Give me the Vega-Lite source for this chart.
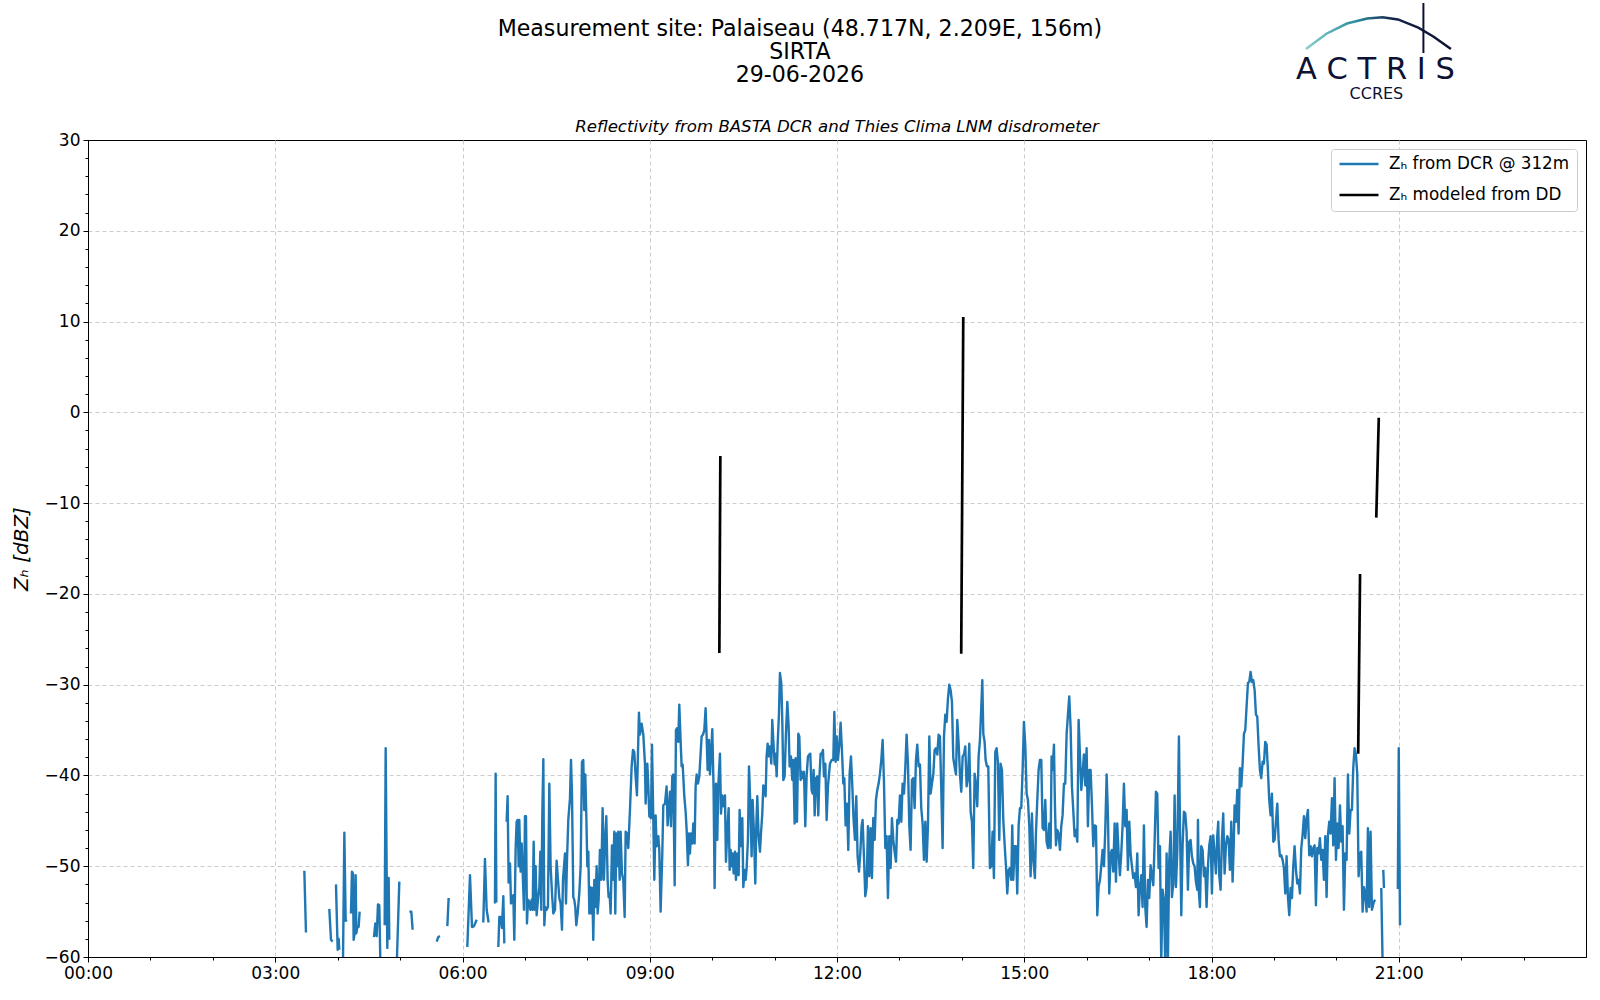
{
"$schema":"https://vega.github.io/schema/vega-lite/v6.json",
"width":1498,"height":817,
"autosize":{"type":"none"},
"padding":{"left":88,"top":140,"right":14,"bottom":43},
"background":"white",
"config":{
 "font":"DejaVu Sans",
 "view":{"stroke":"black","strokeWidth":1},
 "axis":{"domainColor":"black","tickColor":"black","labelColor":"black","labelFont":"DejaVu Sans","labelFontSize":17,"gridColor":"#cccccc","gridDash":[4,3],"gridWidth":1,"titleColor":"black","titleFont":"DejaVu Sans","titleFontWeight":"normal","labelOverlap":false}
},
"datasets":{
"dcr":[
{"t":3.466,"z":-50.5,"g":1},{"t":3.492,"z":-57.3,"g":1},
{"t":3.866,"z":-54.7,"g":2},{"t":3.893,"z":-58.1,"g":2},{"t":3.920,"z":-58.3,"g":2},
{"t":3.973,"z":-52.0,"g":3},{"t":4.000,"z":-59.2,"g":3},{"t":4.016,"z":-58.0,"g":3},{"t":4.026,"z":-59.2,"g":3},
{"t":4.085,"z":-60.7,"g":4},{"t":4.107,"z":-46.3,"g":4},{"t":4.128,"z":-56.0,"g":4},{"t":4.149,"z":-55.9,"g":4},
{"t":4.213,"z":-55.2,"g":5},{"t":4.229,"z":-50.6,"g":5},{"t":4.245,"z":-50.8,"g":5},{"t":4.256,"z":-58.1,"g":5},{"t":4.272,"z":-57.4,"g":5},{"t":4.288,"z":-51.0,"g":5},{"t":4.299,"z":-57.4,"g":5},{"t":4.315,"z":-56.7,"g":5},{"t":4.336,"z":-56.7,"g":5},{"t":4.352,"z":-55.0,"g":5},
{"t":4.582,"z":-57.8,"g":6},{"t":4.603,"z":-56.3,"g":6},{"t":4.625,"z":-57.7,"g":6},{"t":4.646,"z":-54.2,"g":6},{"t":4.667,"z":-54.3,"g":6},{"t":4.683,"z":-60.1,"g":6},
{"t":4.753,"z":-56.5,"g":7},{"t":4.769,"z":-37.0,"g":7},{"t":4.795,"z":-59.0,"g":7},{"t":4.817,"z":-51.3,"g":7},{"t":4.827,"z":-58.1,"g":7},
{"t":4.950,"z":-60.1,"g":8},{"t":4.988,"z":-51.7,"g":8},
{"t":5.148,"z":-55.0,"g":9},{"t":5.180,"z":-55.0,"g":9},{"t":5.201,"z":-57.0,"g":9},
{"t":5.586,"z":-58.3,"g":10},{"t":5.612,"z":-57.8,"g":10},{"t":5.639,"z":-57.7,"g":10},
{"t":5.757,"z":-56.6,"g":11},{"t":5.778,"z":-53.5,"g":11},
{"t":6.077,"z":-58.9,"g":12},{"t":6.120,"z":-51.0,"g":12},{"t":6.152,"z":-56.7,"g":12},{"t":6.184,"z":-56.6,"g":12},{"t":6.227,"z":-55.9,"g":12},
{"t":6.333,"z":-56.2,"g":13},{"t":6.360,"z":-49.2,"g":13},{"t":6.387,"z":-54.8,"g":13},{"t":6.419,"z":-56.2,"g":13},
{"t":6.520,"z":-54.1,"g":14},{"t":6.531,"z":-39.8,"g":14},{"t":6.542,"z":-54.0,"g":14},
{"t":6.574,"z":-58.9,"g":15},{"t":6.590,"z":-55.6,"g":15},{"t":6.611,"z":-55.6,"g":15},{"t":6.632,"z":-56.8,"g":15},{"t":6.654,"z":-53.3,"g":15},{"t":6.670,"z":-58.5,"g":15},
{"t":6.707,"z":-45.1,"g":16},{"t":6.723,"z":-42.3,"g":16},{"t":6.739,"z":-51.8,"g":16},{"t":6.761,"z":-49.7,"g":16},{"t":6.777,"z":-54.1,"g":16},{"t":6.798,"z":-53.7,"g":16},{"t":6.814,"z":-53.2,"g":16},{"t":6.830,"z":-58.1,"g":16},{"t":6.851,"z":-48.2,"g":16},{"t":6.867,"z":-45.1,"g":16},{"t":6.883,"z":-44.9,"g":16},{"t":6.900,"z":-50.0,"g":16},{"t":6.910,"z":-44.9,"g":16},{"t":6.931,"z":-50.6,"g":16},{"t":6.948,"z":-47.5,"g":16},{"t":6.964,"z":-50.6,"g":16},{"t":6.985,"z":-54.8,"g":16},{"t":7.001,"z":-44.5,"g":16},{"t":7.017,"z":-44.5,"g":16},{"t":7.033,"z":-56.3,"g":16},{"t":7.049,"z":-53.7,"g":16},{"t":7.070,"z":-53.9,"g":16},{"t":7.086,"z":-54.8,"g":16},{"t":7.108,"z":-53.7,"g":16},{"t":7.124,"z":-54.8,"g":16},{"t":7.140,"z":-47.3,"g":16},{"t":7.156,"z":-54.8,"g":16},{"t":7.172,"z":-50.0,"g":16},{"t":7.188,"z":-55.4,"g":16},{"t":7.209,"z":-53.7,"g":16},{"t":7.231,"z":-52.3,"g":16},{"t":7.247,"z":-48.4,"g":16},{"t":7.263,"z":-54.8,"g":16},{"t":7.279,"z":-44.2,"g":16},{"t":7.295,"z":-38.2,"g":16},{"t":7.311,"z":-56.5,"g":16},{"t":7.327,"z":-54.5,"g":16},{"t":7.348,"z":-54.8,"g":16},{"t":7.369,"z":-54.5,"g":16},{"t":7.391,"z":-40.9,"g":16},{"t":7.412,"z":-50.0,"g":16},{"t":7.434,"z":-53.0,"g":16},{"t":7.455,"z":-55.2,"g":16},{"t":7.482,"z":-54.8,"g":16},{"t":7.508,"z":-49.4,"g":16},{"t":7.530,"z":-51.5,"g":16},{"t":7.551,"z":-53.5,"g":16},{"t":7.572,"z":-54.1,"g":16},{"t":7.594,"z":-57.0,"g":16},{"t":7.610,"z":-51.5,"g":16},{"t":7.626,"z":-50.0,"g":16},{"t":7.642,"z":-48.6,"g":16},{"t":7.658,"z":-54.1,"g":16},{"t":7.674,"z":-49.3,"g":16},{"t":7.695,"z":-44.9,"g":16},{"t":7.722,"z":-42.5,"g":16},{"t":7.738,"z":-38.3,"g":16},{"t":7.754,"z":-42.0,"g":16},{"t":7.775,"z":-53.4,"g":16},{"t":7.791,"z":-53.7,"g":16},{"t":7.807,"z":-54.5,"g":16},{"t":7.823,"z":-56.5,"g":16},{"t":7.845,"z":-55.2,"g":16},{"t":7.871,"z":-53.0,"g":16},{"t":7.893,"z":-50.0,"g":16},{"t":7.914,"z":-38.5,"g":16},{"t":7.935,"z":-38.3,"g":16},{"t":7.951,"z":-43.8,"g":16},{"t":7.967,"z":-39.9,"g":16},{"t":7.983,"z":-44.2,"g":16},{"t":8.000,"z":-50.0,"g":16},{"t":8.016,"z":-48.4,"g":16},{"t":8.032,"z":-55.2,"g":16},{"t":8.048,"z":-52.3,"g":16},{"t":8.064,"z":-55.2,"g":16},{"t":8.080,"z":-52.4,"g":16},{"t":8.095,"z":-58.1,"g":16},{"t":8.112,"z":-51.5,"g":16},{"t":8.128,"z":-54.5,"g":16},{"t":8.149,"z":-50.0,"g":16},{"t":8.165,"z":-55.2,"g":16},{"t":8.181,"z":-53.7,"g":16},{"t":8.202,"z":-48.2,"g":16},{"t":8.224,"z":-51.5,"g":16},{"t":8.245,"z":-43.6,"g":16},{"t":8.266,"z":-51.5,"g":16},{"t":8.283,"z":-47.5,"g":16},{"t":8.304,"z":-44.5,"g":16},{"t":8.325,"z":-51.5,"g":16},{"t":8.341,"z":-53.4,"g":16},{"t":8.357,"z":-53.0,"g":16},{"t":8.373,"z":-55.2,"g":16},{"t":8.395,"z":-47.7,"g":16},{"t":8.411,"z":-51.5,"g":16},{"t":8.432,"z":-46.2,"g":16},{"t":8.448,"z":-55.2,"g":16},{"t":8.464,"z":-46.4,"g":16},{"t":8.480,"z":-50.0,"g":16},{"t":8.496,"z":-46.2,"g":16},{"t":8.518,"z":-51.5,"g":16},{"t":8.533,"z":-46.2,"g":16},{"t":8.555,"z":-50.8,"g":16},{"t":8.576,"z":-51.5,"g":16},{"t":8.598,"z":-55.6,"g":16},{"t":8.614,"z":-46.2,"g":16},{"t":8.635,"z":-46.4,"g":16},{"t":8.656,"z":-48.0,"g":16},{"t":8.683,"z":-43.8,"g":16},{"t":8.710,"z":-39.0,"g":16},{"t":8.731,"z":-37.2,"g":16},{"t":8.752,"z":-37.4,"g":16},{"t":8.774,"z":-40.1,"g":16},{"t":8.795,"z":-42.2,"g":16},
{"t":8.827,"z":-33.1,"g":16},{"t":8.843,"z":-35.5,"g":16},{"t":8.870,"z":-34.3,"g":16},{"t":8.897,"z":-35.5,"g":16},{"t":8.923,"z":-38.7,"g":16},{"t":8.934,"z":-43.1,"g":16},{"t":8.961,"z":-38.7,"g":16},{"t":8.977,"z":-41.2,"g":16},{"t":8.993,"z":-44.5,"g":16},{"t":9.020,"z":-44.7,"g":16},{"t":9.036,"z":-36.6,"g":16},{"t":9.057,"z":-44.9,"g":16},{"t":9.073,"z":-51.5,"g":16},{"t":9.094,"z":-44.4,"g":16},{"t":9.110,"z":-47.8,"g":16},{"t":9.137,"z":-46.7,"g":16},{"t":9.153,"z":-48.2,"g":16},{"t":9.174,"z":-55.0,"g":16},{"t":9.201,"z":-48.6,"g":16},{"t":9.217,"z":-43.3,"g":16},{"t":9.244,"z":-43.1,"g":16},{"t":9.270,"z":-41.2,"g":16},{"t":9.286,"z":-45.5,"g":16},{"t":9.303,"z":-43.8,"g":16},{"t":9.324,"z":-41.8,"g":16},{"t":9.340,"z":-45.6,"g":16},{"t":9.361,"z":-40.1,"g":16},{"t":9.377,"z":-39.9,"g":16},{"t":9.399,"z":-52.1,"g":16},{"t":9.420,"z":-35.0,"g":16},{"t":9.436,"z":-34.8,"g":16},{"t":9.457,"z":-36.3,"g":16},{"t":9.473,"z":-32.2,"g":16},{"t":9.495,"z":-36.3,"g":16},{"t":9.511,"z":-39.0,"g":16},{"t":9.527,"z":-38.8,"g":16},{"t":9.554,"z":-42.3,"g":16},{"t":9.575,"z":-44.0,"g":16},{"t":9.591,"z":-46.0,"g":16},{"t":9.612,"z":-49.9,"g":16},{"t":9.628,"z":-46.4,"g":16},{"t":9.644,"z":-48.6,"g":16},{"t":9.660,"z":-46.4,"g":16},{"t":9.682,"z":-47.5,"g":16},{"t":9.698,"z":-45.3,"g":16},{"t":9.719,"z":-47.5,"g":16},{"t":9.735,"z":-41.2,"g":16},{"t":9.751,"z":-39.9,"g":16},{"t":9.772,"z":-40.9,"g":16},{"t":9.794,"z":-40.1,"g":16},{"t":9.815,"z":-37.6,"g":16},{"t":9.831,"z":-35.7,"g":16},{"t":9.853,"z":-35.5,"g":16},{"t":9.874,"z":-35.0,"g":16},{"t":9.895,"z":-32.6,"g":16},{"t":9.911,"z":-35.7,"g":16},{"t":9.927,"z":-39.4,"g":16},{"t":9.949,"z":-36.1,"g":16},{"t":9.965,"z":-39.9,"g":16},{"t":9.986,"z":-37.2,"g":16},{"t":10.002,"z":-34.9,"g":16},{"t":10.023,"z":-41.6,"g":16},{"t":10.039,"z":-52.4,"g":16},{"t":10.061,"z":-40.9,"g":16},{"t":10.082,"z":-47.1,"g":16},{"t":10.098,"z":-41.2,"g":16},{"t":10.125,"z":-37.6,"g":16},{"t":10.141,"z":-44.2,"g":16},{"t":10.162,"z":-42.2,"g":16},{"t":10.184,"z":-43.4,"g":16},{"t":10.205,"z":-42.2,"g":16},{"t":10.221,"z":-49.5,"g":16},{"t":10.243,"z":-46.0,"g":16},{"t":10.264,"z":-43.6,"g":16},{"t":10.280,"z":-50.4,"g":16},{"t":10.296,"z":-48.2,"g":16},{"t":10.312,"z":-50.0,"g":16},{"t":10.328,"z":-48.6,"g":16},{"t":10.344,"z":-50.8,"g":16},{"t":10.365,"z":-48.4,"g":16},{"t":10.381,"z":-51.5,"g":16},{"t":10.403,"z":-48.6,"g":16},{"t":10.424,"z":-51.0,"g":16},{"t":10.440,"z":-43.8,"g":16},{"t":10.461,"z":-47.8,"g":16},{"t":10.483,"z":-44.7,"g":16},{"t":10.499,"z":-52.3,"g":16},{"t":10.520,"z":-50.4,"g":16},{"t":10.536,"z":-51.5,"g":16},{"t":10.552,"z":-50.2,"g":16},{"t":10.573,"z":-47.1,"g":16},{"t":10.590,"z":-39.0,"g":16},{"t":10.611,"z":-43.1,"g":16},{"t":10.632,"z":-48.9,"g":16},{"t":10.648,"z":-42.7,"g":16},{"t":10.670,"z":-46.4,"g":16},{"t":10.691,"z":-51.9,"g":16},{"t":10.707,"z":-45.6,"g":16},{"t":10.723,"z":-42.3,"g":16},{"t":10.744,"z":-46.7,"g":16},{"t":10.766,"z":-48.4,"g":16},{"t":10.782,"z":-46.4,"g":16},{"t":10.803,"z":-44.2,"g":16},{"t":10.819,"z":-41.1,"g":16},{"t":10.840,"z":-41.2,"g":16},{"t":10.856,"z":-42.3,"g":16},{"t":10.872,"z":-37.9,"g":16},{"t":10.889,"z":-36.5,"g":16},{"t":10.905,"z":-37.9,"g":16},{"t":10.926,"z":-36.8,"g":16},{"t":10.947,"z":-38.7,"g":16},{"t":10.963,"z":-33.9,"g":16},{"t":10.979,"z":-36.1,"g":16},{"t":11.001,"z":-38.8,"g":16},{"t":11.017,"z":-37.6,"g":16},{"t":11.033,"z":-40.1,"g":16},{"t":11.049,"z":-36.6,"g":16},{"t":11.070,"z":-33.2,"g":16},{"t":11.086,"z":-28.7,"g":16},{"t":11.108,"z":-29.9,"g":16},{"t":11.124,"z":-34.1,"g":16},{"t":11.140,"z":-40.5,"g":16},{"t":11.161,"z":-40.1,"g":16},{"t":11.182,"z":-35.4,"g":16},{"t":11.204,"z":-31.9,"g":16},{"t":11.225,"z":-34.6,"g":16},{"t":11.241,"z":-39.0,"g":16},{"t":11.262,"z":-37.9,"g":16},{"t":11.284,"z":-40.5,"g":16},{"t":11.300,"z":-38.3,"g":16},{"t":11.321,"z":-45.3,"g":16},{"t":11.337,"z":-38.1,"g":16},{"t":11.359,"z":-45.1,"g":16},{"t":11.380,"z":-35.4,"g":16},{"t":11.396,"z":-35.7,"g":16},{"t":11.417,"z":-40.5,"g":16},{"t":11.433,"z":-39.6,"g":16},{"t":11.449,"z":-40.3,"g":16},{"t":11.471,"z":-39.6,"g":16},{"t":11.492,"z":-45.6,"g":16},{"t":11.513,"z":-40.1,"g":16},{"t":11.535,"z":-37.9,"g":16},{"t":11.556,"z":-37.7,"g":16},{"t":11.572,"z":-37.6,"g":16},{"t":11.593,"z":-41.6,"g":16},{"t":11.610,"z":-42.0,"g":16},{"t":11.626,"z":-39.4,"g":16},{"t":11.642,"z":-44.4,"g":16},{"t":11.663,"z":-40.3,"g":16},{"t":11.684,"z":-40.1,"g":16},{"t":11.700,"z":-44.4,"g":16},{"t":11.716,"z":-40.5,"g":16},{"t":11.738,"z":-37.6,"g":16},{"t":11.754,"z":-37.7,"g":16},{"t":11.775,"z":-37.2,"g":16},{"t":11.791,"z":-40.1,"g":16},{"t":11.813,"z":-38.7,"g":16},{"t":11.834,"z":-44.9,"g":16},{"t":11.855,"z":-41.2,"g":16},
{"t":11.887,"z":-38.7,"g":16},{"t":11.914,"z":-38.3,"g":16},{"t":11.941,"z":-38.3,"g":16},{"t":11.957,"z":-33.0,"g":16},{"t":11.978,"z":-38.5,"g":16},{"t":11.994,"z":-35.7,"g":16},{"t":12.015,"z":-38.3,"g":16},{"t":12.037,"z":-36.6,"g":16},{"t":12.058,"z":-34.2,"g":16},{"t":12.079,"z":-37.2,"g":16},{"t":12.101,"z":-40.9,"g":16},{"t":12.117,"z":-40.3,"g":16},{"t":12.138,"z":-45.5,"g":16},{"t":12.160,"z":-43.1,"g":16},{"t":12.181,"z":-48.2,"g":16},{"t":12.202,"z":-39.8,"g":16},{"t":12.224,"z":-37.9,"g":16},{"t":12.245,"z":-41.1,"g":16},{"t":12.266,"z":-44.9,"g":16},{"t":12.288,"z":-47.1,"g":16},{"t":12.309,"z":-42.3,"g":16},{"t":12.330,"z":-48.9,"g":16},{"t":12.352,"z":-50.6,"g":16},{"t":12.373,"z":-48.6,"g":16},{"t":12.394,"z":-45.6,"g":16},{"t":12.410,"z":-44.9,"g":16},{"t":12.432,"z":-48.9,"g":16},{"t":12.453,"z":-53.3,"g":16},{"t":12.474,"z":-52.3,"g":16},{"t":12.496,"z":-45.6,"g":16},{"t":12.517,"z":-51.1,"g":16},{"t":12.539,"z":-45.8,"g":16},{"t":12.560,"z":-51.3,"g":16},{"t":12.581,"z":-44.7,"g":16},{"t":12.603,"z":-47.1,"g":16},{"t":12.624,"z":-42.7,"g":16},{"t":12.645,"z":-41.6,"g":16},{"t":12.667,"z":-40.9,"g":16},{"t":12.688,"z":-39.8,"g":16},{"t":12.710,"z":-38.3,"g":16},{"t":12.731,"z":-36.1,"g":16},{"t":12.752,"z":-40.5,"g":16},{"t":12.774,"z":-48.0,"g":16},{"t":12.795,"z":-46.7,"g":16},{"t":12.816,"z":-53.5,"g":16},{"t":12.838,"z":-46.7,"g":16},{"t":12.859,"z":-50.2,"g":16},{"t":12.880,"z":-44.7,"g":16},{"t":12.902,"z":-47.1,"g":16},{"t":12.923,"z":-48.4,"g":16},{"t":12.945,"z":-49.5,"g":16},{"t":12.966,"z":-44.9,"g":16},{"t":12.987,"z":-45.3,"g":16},{"t":13.009,"z":-42.2,"g":16},{"t":13.030,"z":-45.1,"g":16},{"t":13.051,"z":-40.9,"g":16},{"t":13.073,"z":-42.0,"g":16},{"t":13.094,"z":-39.2,"g":16},{"t":13.115,"z":-35.5,"g":16},{"t":13.137,"z":-38.7,"g":16},{"t":13.158,"z":-45.5,"g":16},{"t":13.179,"z":-48.2,"g":16},{"t":13.201,"z":-40.5,"g":16},{"t":13.222,"z":-40.3,"g":16},{"t":13.244,"z":-43.6,"g":16},{"t":13.265,"z":-38.3,"g":16},{"t":13.286,"z":-36.6,"g":16},{"t":13.308,"z":-39.0,"g":16},{"t":13.329,"z":-38.8,"g":16},{"t":13.350,"z":-43.6,"g":16},{"t":13.372,"z":-45.3,"g":16},{"t":13.393,"z":-49.3,"g":16},{"t":13.415,"z":-45.1,"g":16},{"t":13.436,"z":-49.5,"g":16},{"t":13.457,"z":-45.6,"g":16},{"t":13.479,"z":-35.7,"g":16},{"t":13.500,"z":-42.0,"g":16},{"t":13.521,"z":-40.9,"g":16},{"t":13.543,"z":-39.9,"g":16},{"t":13.564,"z":-37.2,"g":16},{"t":13.585,"z":-37.0,"g":16},{"t":13.607,"z":-37.7,"g":16},{"t":13.628,"z":-35.5,"g":16},{"t":13.649,"z":-35.7,"g":16},{"t":13.671,"z":-41.6,"g":16},{"t":13.692,"z":-48.0,"g":16},{"t":13.714,"z":-35.7,"g":16},{"t":13.735,"z":-33.3,"g":16},{"t":13.756,"z":-34.1,"g":16},{"t":13.778,"z":-31.5,"g":16},{"t":13.799,"z":-30.0,"g":16},{"t":13.820,"z":-30.6,"g":16},{"t":13.842,"z":-31.9,"g":16},{"t":13.863,"z":-38.1,"g":16},{"t":13.884,"z":-39.0,"g":16},{"t":13.906,"z":-39.9,"g":16},{"t":13.927,"z":-33.9,"g":16},{"t":13.949,"z":-36.5,"g":16},{"t":13.970,"z":-39.9,"g":16},{"t":13.991,"z":-41.8,"g":16},{"t":14.013,"z":-37.9,"g":16},{"t":14.034,"z":-37.7,"g":16},{"t":14.055,"z":-36.8,"g":16},{"t":14.077,"z":-41.2,"g":16},{"t":14.098,"z":-40.3,"g":16},{"t":14.119,"z":-36.5,"g":16},{"t":14.141,"z":-44.0,"g":16},{"t":14.162,"z":-45.1,"g":16},{"t":14.183,"z":-50.2,"g":16},{"t":14.205,"z":-39.8,"g":16},{"t":14.226,"z":-41.1,"g":16},{"t":14.247,"z":-43.4,"g":16},{"t":14.269,"z":-37.9,"g":16},{"t":14.290,"z":-36.1,"g":16},{"t":14.312,"z":-32.4,"g":16},{"t":14.328,"z":-29.5,"g":16},{"t":14.344,"z":-35.4,"g":16},{"t":14.365,"z":-36.3,"g":16},{"t":14.381,"z":-38.3,"g":16},{"t":14.402,"z":-39.0,"g":16},{"t":14.424,"z":-39.0,"g":16},{"t":14.450,"z":-50.2,"g":16},{"t":14.472,"z":-50.0,"g":16},{"t":14.493,"z":-46.2,"g":16},{"t":14.514,"z":-51.3,"g":16},{"t":14.536,"z":-37.4,"g":16},{"t":14.557,"z":-37.0,"g":16},{"t":14.578,"z":-38.5,"g":16},{"t":14.600,"z":-47.1,"g":16},{"t":14.621,"z":-38.7,"g":16},{"t":14.643,"z":-39.4,"g":16},{"t":14.664,"z":-44.9,"g":16},{"t":14.685,"z":-47.5,"g":16},{"t":14.707,"z":-50.0,"g":16},{"t":14.728,"z":-53.0,"g":16},
{"t":14.750,"z":-50.4,"g":16},{"t":14.771,"z":-50.2,"g":16},{"t":14.792,"z":-51.5,"g":16},{"t":14.808,"z":-45.5,"g":16},{"t":14.824,"z":-51.5,"g":16},{"t":14.846,"z":-47.8,"g":16},{"t":14.867,"z":-47.8,"g":16},{"t":14.888,"z":-53.0,"g":16},{"t":14.910,"z":-45.5,"g":16},{"t":14.931,"z":-43.6,"g":16},{"t":14.952,"z":-43.6,"g":16},{"t":14.974,"z":-39.4,"g":16},{"t":14.995,"z":-34.1,"g":16},{"t":15.017,"z":-36.8,"g":16},{"t":15.038,"z":-42.0,"g":16},{"t":15.059,"z":-42.7,"g":16},{"t":15.081,"z":-45.6,"g":16},{"t":15.102,"z":-51.1,"g":16},{"t":15.123,"z":-44.2,"g":16},{"t":15.145,"z":-49.3,"g":16},{"t":15.171,"z":-51.3,"g":16},{"t":15.187,"z":-46.4,"g":16},{"t":15.209,"z":-42.7,"g":16},{"t":15.230,"z":-39.4,"g":16},{"t":15.251,"z":-38.3,"g":16},{"t":15.273,"z":-38.3,"g":16},{"t":15.294,"z":-45.8,"g":16},{"t":15.315,"z":-46.0,"g":16},{"t":15.337,"z":-42.7,"g":16},{"t":15.358,"z":-47.3,"g":16},{"t":15.380,"z":-48.0,"g":16},{"t":15.401,"z":-45.3,"g":16},{"t":15.422,"z":-48.0,"g":16},{"t":15.438,"z":-37.9,"g":16},{"t":15.454,"z":-39.4,"g":16},{"t":15.476,"z":-36.6,"g":16},{"t":15.492,"z":-43.4,"g":16},{"t":15.508,"z":-47.7,"g":16},{"t":15.529,"z":-46.0,"g":16},{"t":15.550,"z":-46.4,"g":16},{"t":15.572,"z":-48.2,"g":16},{"t":15.593,"z":-45.6,"g":16},{"t":15.614,"z":-44.4,"g":16},{"t":15.636,"z":-40.9,"g":16},{"t":15.657,"z":-40.9,"g":16},{"t":15.679,"z":-35.4,"g":16},{"t":15.700,"z":-33.3,"g":16},{"t":15.721,"z":-31.3,"g":16},{"t":15.743,"z":-34.8,"g":16},{"t":15.764,"z":-41.2,"g":16},{"t":15.785,"z":-43.8,"g":16},{"t":15.807,"z":-46.7,"g":16},{"t":15.828,"z":-46.0,"g":16},{"t":15.850,"z":-47.3,"g":16},{"t":15.871,"z":-33.9,"g":16},{"t":15.892,"z":-37.7,"g":16},{"t":15.914,"z":-41.6,"g":16},{"t":15.935,"z":-39.8,"g":16},{"t":15.956,"z":-37.7,"g":16},{"t":15.978,"z":-41.1,"g":16},{"t":15.999,"z":-37.0,"g":16},{"t":16.020,"z":-45.6,"g":16},{"t":16.042,"z":-39.4,"g":16},{"t":16.063,"z":-39.4,"g":16},{"t":16.084,"z":-43.1,"g":16},{"t":16.106,"z":-47.8,"g":16},{"t":16.127,"z":-45.5,"g":16},{"t":16.149,"z":-45.6,"g":16},{"t":16.170,"z":-55.4,"g":16},{"t":16.191,"z":-52.3,"g":16},{"t":16.213,"z":-51.5,"g":16},{"t":16.234,"z":-50.0,"g":16},{"t":16.255,"z":-48.2,"g":16},{"t":16.277,"z":-50.0,"g":16},{"t":16.298,"z":-46.0,"g":16},{"t":16.320,"z":-39.9,"g":16},{"t":16.341,"z":-44.5,"g":16},{"t":16.362,"z":-53.0,"g":16},{"t":16.384,"z":-48.6,"g":16},{"t":16.405,"z":-48.2,"g":16},{"t":16.426,"z":-50.6,"g":16},{"t":16.448,"z":-45.3,"g":16},{"t":16.469,"z":-51.7,"g":16},{"t":16.490,"z":-45.3,"g":16},{"t":16.512,"z":-48.6,"g":16},{"t":16.533,"z":-51.0,"g":16},{"t":16.554,"z":-48.6,"g":16},{"t":16.576,"z":-45.5,"g":16},{"t":16.597,"z":-40.9,"g":16},{"t":16.618,"z":-45.6,"g":16},{"t":16.640,"z":-43.8,"g":16},{"t":16.661,"z":-50.4,"g":16},{"t":16.683,"z":-45.1,"g":16},{"t":16.704,"z":-48.6,"g":16},{"t":16.725,"z":-50.0,"g":16},{"t":16.747,"z":-51.3,"g":16},{"t":16.768,"z":-50.8,"g":16},{"t":16.789,"z":-52.3,"g":16},{"t":16.811,"z":-48.6,"g":16},{"t":16.832,"z":-55.4,"g":16},{"t":16.853,"z":-52.3,"g":16},{"t":16.875,"z":-51.0,"g":16},{"t":16.896,"z":-54.5,"g":16},{"t":16.917,"z":-45.5,"g":16},{"t":16.939,"z":-54.5,"g":16},{"t":16.960,"z":-56.7,"g":16},{"t":16.982,"z":-51.5,"g":16},{"t":17.003,"z":-53.5,"g":16},{"t":17.024,"z":-49.9,"g":16},{"t":17.046,"z":-51.1,"g":16},{"t":17.067,"z":-52.1,"g":16},{"t":17.088,"z":-47.5,"g":16},{"t":17.110,"z":-41.8,"g":16},{"t":17.131,"z":-42.0,"g":16},{"t":17.152,"z":-50.2,"g":16},{"t":17.174,"z":-47.8,"g":16},{"t":17.195,"z":-60.5,"g":16},{"t":17.217,"z":-52.6,"g":16},{"t":17.238,"z":-53.7,"g":16},{"t":17.259,"z":-61.0,"g":16},{"t":17.281,"z":-48.6,"g":16},{"t":17.302,"z":-60.0,"g":16},{"t":17.323,"z":-49.3,"g":16},{"t":17.345,"z":-46.2,"g":16},{"t":17.366,"z":-53.4,"g":16},{"t":17.388,"z":-51.9,"g":16},{"t":17.409,"z":-42.2,"g":16},{"t":17.430,"z":-52.3,"g":16},{"t":17.452,"z":-48.4,"g":16},{"t":17.478,"z":-35.7,"g":16},{"t":17.494,"z":-44.9,"g":16},{"t":17.516,"z":-55.4,"g":16},{"t":17.537,"z":-47.7,"g":16},{"t":17.558,"z":-44.0,"g":16},{"t":17.580,"z":-44.2,"g":16},{"t":17.601,"z":-46.2,"g":16},{"t":17.622,"z":-52.6,"g":16},{"t":17.644,"z":-47.3,"g":16},{"t":17.665,"z":-47.1,"g":16},{"t":17.686,"z":-48.9,"g":16},{"t":17.708,"z":-49.7,"g":16},{"t":17.729,"z":-50.0,"g":16},{"t":17.750,"z":-51.7,"g":16},{"t":17.772,"z":-52.6,"g":16},
{"t":17.783,"z":-44.9,"g":16},{"t":17.799,"z":-53.0,"g":16},{"t":17.815,"z":-54.5,"g":16},{"t":17.836,"z":-47.8,"g":16},{"t":17.857,"z":-48.2,"g":16},{"t":17.879,"z":-51.1,"g":16},{"t":17.900,"z":-50.2,"g":16},{"t":17.921,"z":-54.5,"g":16},{"t":17.943,"z":-50.0,"g":16},{"t":17.964,"z":-47.7,"g":16},{"t":17.986,"z":-46.7,"g":16},{"t":18.007,"z":-53.0,"g":16},{"t":18.028,"z":-46.6,"g":16},{"t":18.050,"z":-48.6,"g":16},{"t":18.071,"z":-50.8,"g":16},{"t":18.092,"z":-46.7,"g":16},{"t":18.108,"z":-45.1,"g":16},{"t":18.125,"z":-51.1,"g":16},{"t":18.146,"z":-52.6,"g":16},{"t":18.167,"z":-47.1,"g":16},{"t":18.188,"z":-44.2,"g":16},{"t":18.210,"z":-50.8,"g":16},{"t":18.231,"z":-47.7,"g":16},{"t":18.253,"z":-46.7,"g":16},{"t":18.274,"z":-47.1,"g":16},{"t":18.295,"z":-50.4,"g":16},{"t":18.317,"z":-45.1,"g":16},{"t":18.338,"z":-51.7,"g":16},{"t":18.354,"z":-48.2,"g":16},{"t":18.370,"z":-43.3,"g":16},{"t":18.392,"z":-45.1,"g":16},{"t":18.413,"z":-41.6,"g":16},{"t":18.434,"z":-46.4,"g":16},{"t":18.455,"z":-39.2,"g":16},{"t":18.477,"z":-41.2,"g":16},{"t":18.498,"z":-38.7,"g":16},{"t":18.520,"z":-35.4,"g":16},{"t":18.541,"z":-35.0,"g":16},{"t":18.562,"z":-32.4,"g":16},{"t":18.584,"z":-29.8,"g":16},{"t":18.605,"z":-29.7,"g":16},{"t":18.626,"z":-28.6,"g":16},{"t":18.648,"z":-29.7,"g":16},{"t":18.669,"z":-29.5,"g":16},{"t":18.691,"z":-30.6,"g":16},{"t":18.712,"z":-33.3,"g":16},{"t":18.733,"z":-33.5,"g":16},{"t":18.755,"z":-36.8,"g":16},{"t":18.776,"z":-39.4,"g":16},{"t":18.797,"z":-40.3,"g":16},{"t":18.819,"z":-38.5,"g":16},{"t":18.840,"z":-38.7,"g":16},{"t":18.861,"z":-36.3,"g":16},{"t":18.883,"z":-36.6,"g":16},{"t":18.904,"z":-39.4,"g":16},{"t":18.925,"z":-42.7,"g":16},{"t":18.947,"z":-44.4,"g":16},{"t":18.968,"z":-42.0,"g":16},{"t":18.990,"z":-47.3,"g":16},{"t":19.011,"z":-47.1,"g":16},{"t":19.032,"z":-45.1,"g":16},{"t":19.054,"z":-43.1,"g":16},{"t":19.075,"z":-47.1,"g":16},{"t":19.096,"z":-48.9,"g":16},{"t":19.118,"z":-48.8,"g":16},{"t":19.139,"z":-49.3,"g":16},{"t":19.160,"z":-50.2,"g":16},{"t":19.182,"z":-53.0,"g":16},{"t":19.203,"z":-48.9,"g":16},{"t":19.225,"z":-53.4,"g":16},{"t":19.246,"z":-55.4,"g":16},{"t":19.267,"z":-52.4,"g":16},{"t":19.289,"z":-53.5,"g":16},{"t":19.310,"z":-50.0,"g":16},{"t":19.331,"z":-47.8,"g":16},{"t":19.353,"z":-50.4,"g":16},{"t":19.374,"z":-51.9,"g":16},{"t":19.395,"z":-51.5,"g":16},{"t":19.417,"z":-53.0,"g":16},{"t":19.438,"z":-48.0,"g":16},{"t":19.459,"z":-46.6,"g":16},{"t":19.481,"z":-44.5,"g":16},{"t":19.502,"z":-46.9,"g":16},{"t":19.524,"z":-44.7,"g":16},{"t":19.545,"z":-43.8,"g":16},{"t":19.566,"z":-48.8,"g":16},{"t":19.588,"z":-47.8,"g":16},{"t":19.609,"z":-48.9,"g":16},{"t":19.630,"z":-48.0,"g":16},{"t":19.652,"z":-47.7,"g":16},{"t":19.673,"z":-54.3,"g":16},{"t":19.695,"z":-48.0,"g":16},{"t":19.716,"z":-48.6,"g":16},{"t":19.737,"z":-46.9,"g":16},{"t":19.759,"z":-49.3,"g":16},{"t":19.780,"z":-48.2,"g":16},{"t":19.801,"z":-51.5,"g":16},{"t":19.823,"z":-46.7,"g":16},{"t":19.844,"z":-53.4,"g":16},{"t":19.865,"z":-46.6,"g":16},{"t":19.887,"z":-45.1,"g":16},{"t":19.908,"z":-46.4,"g":16},{"t":19.930,"z":-42.5,"g":16},{"t":19.951,"z":-47.7,"g":16},{"t":19.972,"z":-40.3,"g":16},{"t":19.994,"z":-49.3,"g":16},{"t":20.015,"z":-45.3,"g":16},{"t":20.036,"z":-48.0,"g":16},{"t":20.058,"z":-43.3,"g":16},{"t":20.079,"z":-47.3,"g":16},{"t":20.100,"z":-45.6,"g":16},{"t":20.122,"z":-54.8,"g":16},{"t":20.143,"z":-48.6,"g":16},{"t":20.164,"z":-49.3,"g":16},{"t":20.186,"z":-39.9,"g":16},{"t":20.207,"z":-46.4,"g":16},{"t":20.228,"z":-43.8,"g":16},{"t":20.250,"z":-43.8,"g":16},{"t":20.271,"z":-39.2,"g":16},{"t":20.292,"z":-37.0,"g":16},{"t":20.314,"z":-37.7,"g":16},{"t":20.335,"z":-39.8,"g":16},{"t":20.357,"z":-51.1,"g":16},{"t":20.378,"z":-48.6,"g":16},{"t":20.399,"z":-48.4,"g":16},{"t":20.421,"z":-55.0,"g":16},{"t":20.442,"z":-52.3,"g":16},{"t":20.463,"z":-53.0,"g":16},{"t":20.485,"z":-55.0,"g":16},{"t":20.506,"z":-45.8,"g":16},{"t":20.527,"z":-54.5,"g":16},{"t":20.549,"z":-46.2,"g":16},{"t":20.570,"z":-54.8,"g":16},{"t":20.602,"z":-53.9,"g":16},{"t":20.624,"z":-53.7,"g":16},
{"t":20.720,"z":-52.4,"g":17},{"t":20.741,"z":-60.5,"g":17},
{"t":20.752,"z":-50.4,"g":18},{"t":20.763,"z":-52.4,"g":18},
{"t":20.985,"z":-52.5,"g":19},{"t":21.0,"z":-37.0,"g":19},{"t":21.02,"z":-56.5,"g":19}
],
"dd":[
{"t":10.115,"z":-26.5,"g":1},{"t":10.131,"z":-4.8,"g":1},
{"t":13.990,"z":-26.6,"g":2},{"t":14.023,"z":10.5,"g":2},
{"t":20.350,"z":-37.6,"g":3},{"t":20.380,"z":-17.8,"g":3},
{"t":20.640,"z":-11.6,"g":4},{"t":20.680,"z":-0.6,"g":4}
],
"arc":[
{"t":19.513,"z":40.02},{"t":19.841,"z":41.71},{"t":20.170,"z":42.83},{"t":20.495,"z":43.39},{"t":20.740,"z":43.51},{"t":20.987,"z":43.28},{"t":21.313,"z":42.38},{"t":21.559,"z":41.38},{"t":21.836,"z":40.02}
]
},
"layer":[
{
 "data":{"name":"dcr"},
 "mark":{"type":"line","strokeWidth":2.4,"clip":true,"strokeJoin":"round"},
 "encoding":{
  "x":{"field":"t","type":"quantitative","scale":{"domain":[0,24],"nice":false,"zero":false},
   "axis":{"title":null,"tickCount":100,"values":[0,1,2,3,4,5,6,7,8,9,10,11,12,13,14,15,16,17,18,19,20,21,22,23],
    "labelExpr":"datum.value % 3 === 0 ? (datum.value < 10 ? '0' : '') + datum.value + ':00' : ''",
    "tickSize":{"condition":{"test":"datum.value % 3 === 0","value":5},"value":3},
    "gridOpacity":{"condition":{"test":"datum.value % 3 === 0 && datum.value > 0","value":1},"value":0},
    "labelPadding":3,"labelFlush":false}},
  "y":{"field":"z","type":"quantitative","scale":{"domain":[-60,30],"nice":false,"zero":false},
   "axis":{"title":"Zₕ [dBZ]","titleFontStyle":"italic","titleFontSize":20,"titlePadding":13,"tickCount":100,
    "values":[-60,-58,-56,-54,-52,-50,-48,-46,-44,-42,-40,-38,-36,-34,-32,-30,-28,-26,-24,-22,-20,-18,-16,-14,-12,-10,-8,-6,-4,-2,0,2,4,6,8,10,12,14,16,18,20,22,24,26,28,30],
    "labelExpr":"datum.value % 10 === 0 ? datum.label : ''",
    "tickSize":{"condition":{"test":"datum.value % 10 === 0","value":5},"value":3},
    "gridOpacity":{"condition":{"test":"datum.value % 10 === 0 && datum.value > -60 && datum.value < 30","value":1},"value":0},
    "labelPadding":3}},
  "color":{"datum":"DCR","type":"nominal","scale":{"domain":["DCR","DD"],"range":["#1f77b4","#000000"]},
   "legend":{"orient":"top-right","offset":9,"title":null,"symbolType":"stroke","symbolSize":1521,"symbolStrokeWidth":2.5,"labelFontSize":16.8,"labelFont":"DejaVu Sans","labelColor":"black","labelOffset":9,"labelLimit":400,"padding":7,"rowPadding":14,"clipHeight":16,"fillColor":"rgba(255,255,255,0.85)","strokeColor":"#cccccc","cornerRadius":3,
    "labelExpr":"datum.label === 'DCR' ? 'Zₕ from DCR @ 312m' : 'Zₕ modeled from DD'"}},
  "detail":{"field":"g","type":"nominal"}
 }
},
{
 "data":{"name":"dd"},
 "mark":{"type":"line","strokeWidth":2.7,"clip":true},
 "encoding":{
  "x":{"field":"t","type":"quantitative"},
  "y":{"field":"z","type":"quantitative"},
  "color":{"datum":"DD","type":"nominal"},
  "detail":{"field":"g","type":"nominal"}
 }
},
{
 "data":{"values":[{}]},
 "mark":{"type":"text","text":["Measurement site: Palaiseau (48.717N, 2.209E, 156m)","SIRTA","29-06-2026"],"fontSize":22.1,"lineHeight":23,"align":"center","baseline":"middle","clip":false,"color":"black","font":"DejaVu Sans"},
 "encoding":{
  "x":{"datum":11.406,"type":"quantitative"},
  "y":{"datum":42.27,"type":"quantitative"}
 }
},
{
 "data":{"values":[{}]},
 "mark":{"type":"text","text":"Reflectivity from BASTA DCR and Thies Clima LNM disdrometer","fontSize":16.6,"fontStyle":"italic","align":"center","baseline":"middle","clip":false,"color":"black","font":"DejaVu Sans"},
 "encoding":{
  "x":{"datum":12.0,"type":"quantitative"},
  "y":{"datum":31.48,"type":"quantitative"}
 }
},
{
 "data":{"name":"arc"},
 "mark":{"type":"line","clip":false,"strokeWidth":2.5,"color":{"gradient":"linear","x1":0,"x2":1,"y1":0,"y2":0,"stops":[{"offset":0,"color":"#86cfcb"},{"offset":0.35,"color":"#2d8c9c"},{"offset":0.6,"color":"#14244a"},{"offset":1,"color":"#0d1233"}]}},
 "encoding":{
  "x":{"field":"t","type":"quantitative"},
  "y":{"field":"z","type":"quantitative"}
 }
},
{
 "data":{"values":[{}]},
 "mark":{"type":"rule","clip":false,"strokeWidth":2,"color":"#0d1233"},
 "encoding":{
  "x":{"datum":21.395,"type":"quantitative"},
  "y":{"datum":45.09,"type":"quantitative"},
  "y2":{"datum":39.58}
 }
},
{
 "data":{"values":[{}]},
 "mark":{"type":"text","text":"A C T R I S","fontSize":30.5,"align":"center","baseline":"middle","clip":false,"color":"#0d1233","font":"DejaVu Sans"},
 "encoding":{
  "x":{"datum":20.626,"type":"quantitative"},
  "y":{"datum":37.75,"type":"quantitative"}
 }
},
{
 "data":{"values":[{}]},
 "mark":{"type":"text","text":"CCRES","fontSize":16,"align":"center","baseline":"middle","clip":false,"color":"#0d1233","font":"DejaVu Sans"},
 "encoding":{
  "x":{"datum":20.642,"type":"quantitative"},
  "y":{"datum":35.1,"type":"quantitative"}
 }
}
]
}
